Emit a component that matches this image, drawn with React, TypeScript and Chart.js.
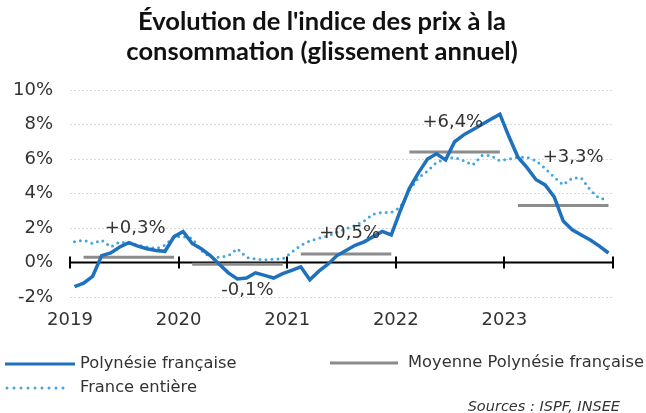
import React, { useEffect, useRef } from "react";
import { Chart, registerables } from "chart.js";

Chart.register(...registerables);

// ---- Data ----
const years = ["2019", "2020", "2021", "2022", "2023"];

// Monthly year-on-year change (%), Jan 2019 .. Dec 2023
const polynesie = [
  -1.4, -1.2, -0.8, 0.4, 0.55, 0.9, 1.15, 0.95, 0.8, 0.7, 0.65, 1.5,
  1.8, 1.1, 0.8, 0.4, -0.1, -0.6, -0.95, -0.9, -0.6, -0.75, -0.9, -0.65,
  -0.45, -0.25, -1.0, -0.5, -0.1, 0.4, 0.7, 1.0, 1.2, 1.5, 1.8, 1.6,
  3.0, 4.3, 5.2, 6.0, 6.3, 5.95, 7.0, 7.4, 7.7, 8.0, 8.3, 8.6,
  7.3, 6.1, 5.5, 4.8, 4.5, 3.8, 2.4, 1.9, 1.6, 1.3, 0.95, 0.55,
];

const france = [
  1.2, 1.3, 1.1, 1.3, 0.9, 1.2, 1.1, 1.0, 0.9, 0.8, 1.0, 1.5,
  1.5, 1.4, 0.7, 0.3, 0.3, 0.4, 0.8, 0.3, 0.2, 0.15, 0.2, 0.2,
  0.6, 1.0, 1.25, 1.4, 1.55, 1.75, 1.95, 2.15, 2.4, 2.8, 2.9, 2.9,
  3.2, 4.2, 4.9, 5.3, 5.8, 6.0, 6.1, 5.9, 5.65, 6.2, 6.2, 5.9,
  6.0, 6.1, 6.1, 5.9, 5.45, 4.95, 4.5, 4.9, 4.9, 4.2, 3.7, 3.7,
];

const meanValues = [0.3, -0.1, 0.5, 6.4, 3.3];
const meanLabels = ["+0,3%", "-0,1%", "+0,5%", "+6,4%", "+3,3%"];

const titleLines = ["Évolution de l'indice des prix à la", "consommation (glissement annuel)"];
const seriesNames = ["Polynésie française", "France entière", "Moyenne Polynésie française"];
const sourceText = "Sources : ISPF, INSEE";

// ---- Styles ----
const BLUE = "#1f71be";
const LIGHT_BLUE = "#45a7e0";
const GRAY = "#8c8c8c";
const TEXT = "#333333";
const FONT = "'DejaVu Sans', sans-serif";

// label placement relative to mean line: x in month units, dy in px
const labelPlacement = [
  { x: 7.2, dy: -29 },
  { x: 19.6, dy: 26 },
  { x: 30.9, dy: -21 },
  { x: 42.3, dy: -30 },
  { x: 55.6, dy: -48 },
];

export default function App() {
  const ref = useRef<HTMLCanvasElement>(null);

  useEffect(() => {
    if (!ref.current) return;

    const polyPts = polynesie.map((v, i) => ({ x: i + 0.5, y: v }));
    const frPts = france.map((v, i) => ({ x: i + 0.5, y: v }));
    const meanPts: { x: number; y: number | null }[] = [];
    meanValues.forEach((v, yi) => {
      meanPts.push({ x: yi * 12 + 0.5, y: null });
      for (let m = 1; m < 12; m++) meanPts.push({ x: yi * 12 + m + 0.5, y: v });
    });

    const decorations = {
      id: "decorations",
      beforeDatasetsDraw(chart: any) {
        const { ctx, scales } = chart;
        const xs = scales.x;
        const ys = scales.y;
        const y0 = ys.getPixelForValue(0);
        ctx.save();
        ctx.strokeStyle = "#000";
        ctx.lineWidth = 2;
        ctx.beginPath();
        ctx.moveTo(xs.getPixelForValue(0), y0);
        ctx.lineTo(xs.getPixelForValue(60), y0);
        ctx.stroke();
        for (let k = 0; k <= years.length; k++) {
          const px = Math.round(xs.getPixelForValue(k * 12));
          ctx.beginPath();
          ctx.moveTo(px, y0 - 6);
          ctx.lineTo(px, y0 + 6);
          ctx.stroke();
        }
        ctx.restore();
      },
      afterDatasetsDraw(chart: any) {
        const { ctx, scales } = chart;
        ctx.save();
        ctx.font = `18px ${FONT}`;
        ctx.fillStyle = TEXT;
        ctx.textAlign = "center";
        ctx.textBaseline = "middle";
        meanLabels.forEach((t, i) => {
          const p = labelPlacement[i];
          const px = scales.x.getPixelForValue(p.x);
          const py = scales.y.getPixelForValue(meanValues[i]) + p.dy;
          ctx.fillText(t, px, py);
        });
        ctx.restore();
      },
      afterDraw(chart: any) {
        const { ctx, width } = chart;
        ctx.save();
        // title
        ctx.fillStyle = "#111111";
        ctx.font = `bold 25.5px Lato, sans-serif`;
        ctx.textAlign = "center";
        ctx.textBaseline = "middle";
        ctx.fillText(titleLines[0], width / 2 - 1, 22);
        ctx.fillText(titleLines[1], width / 2 - 1, 52);

        // legend
        ctx.font = `16.3px ${FONT}`;
        ctx.fillStyle = TEXT;
        ctx.textAlign = "left";
        ctx.lineCap = "butt";
        // Polynésie
        ctx.strokeStyle = BLUE;
        ctx.lineWidth = 3;
        ctx.beginPath();
        ctx.moveTo(5, 364);
        ctx.lineTo(75, 364);
        ctx.stroke();
        ctx.fillText(seriesNames[0], 80, 364);
        // Moyenne
        ctx.strokeStyle = GRAY;
        ctx.beginPath();
        ctx.moveTo(330, 363);
        ctx.lineTo(398, 363);
        ctx.stroke();
        ctx.fillText(seriesNames[2], 408, 363);
        // France
        ctx.strokeStyle = LIGHT_BLUE;
        ctx.lineCap = "round";
        ctx.setLineDash([0, 7]);
        ctx.beginPath();
        ctx.moveTo(7, 388);
        ctx.lineTo(68, 388);
        ctx.stroke();
        ctx.setLineDash([]);
        ctx.fillText(seriesNames[1], 80, 388);
        // source
        ctx.font = `italic 14.5px ${FONT}`;
        ctx.textAlign = "right";
        ctx.fillText(sourceText, 620, 407);
        ctx.restore();
      },
    };

    const chart = new Chart(ref.current, {
      type: "line",
      data: {
        datasets: [
          {
            label: seriesNames[0],
            data: polyPts,
            borderColor: BLUE,
            borderWidth: 3.5,
            pointRadius: 0,
            tension: 0,
            order: 0,
          },
          {
            label: seriesNames[1],
            data: frPts,
            borderColor: LIGHT_BLUE,
            borderWidth: 3,
            borderDash: [0, 6],
            borderCapStyle: "round",
            pointRadius: 0,
            tension: 0,
            order: 1,
          },
          {
            label: seriesNames[2],
            data: meanPts,
            borderColor: GRAY,
            borderWidth: 3,
            pointRadius: 0,
            spanGaps: false,
            order: 2,
          },
        ],
      },
      plugins: [decorations],
      options: {
        animation: false,
        responsive: false,
        layout: { padding: { top: 90, right: 33, bottom: 80, left: 0 } },
        plugins: {
          legend: { display: false },
          title: { display: false },
          tooltip: { enabled: false },
        },
        scales: {
          x: {
            type: "linear",
            min: 0,
            max: 60,
            grid: { display: false, drawTicks: false },
            border: { display: false },
            afterFit: (s: any) => {
              s.height = 36;
            },
            ticks: {
              stepSize: 12,
              autoSkip: false,
              maxRotation: 0,
              padding: 13,
              color: TEXT,
              font: { family: FONT, size: 18 },
              callback: (v: any) => years[Math.round(Number(v) / 12)] ?? "",
            },
          },
          y: {
            min: -2,
            max: 10,
            grid: {
              drawTicks: false,
              color: (c: any) => (c.tick && c.tick.value === 0 ? "rgba(0,0,0,0)" : "#d9d9d9"),
              lineWidth: 1,
            },
            border: { display: false, dash: [2, 2] },
            afterFit: (s: any) => {
              s.width = 70;
            },
            ticks: {
              stepSize: 2,
              padding: 17,
              color: TEXT,
              font: { family: FONT, size: 18 },
              callback: (v: any) => `${v}%`,
            },
          },
        },
      },
    });

    return () => chart.destroy();
  }, []);

  return (
    <div style={{ position: "absolute", left: 0, top: 0, width: 646, height: 413, background: "#fff" }}>
      <canvas ref={ref} width={646} height={413} />
    </div>
  );
}
